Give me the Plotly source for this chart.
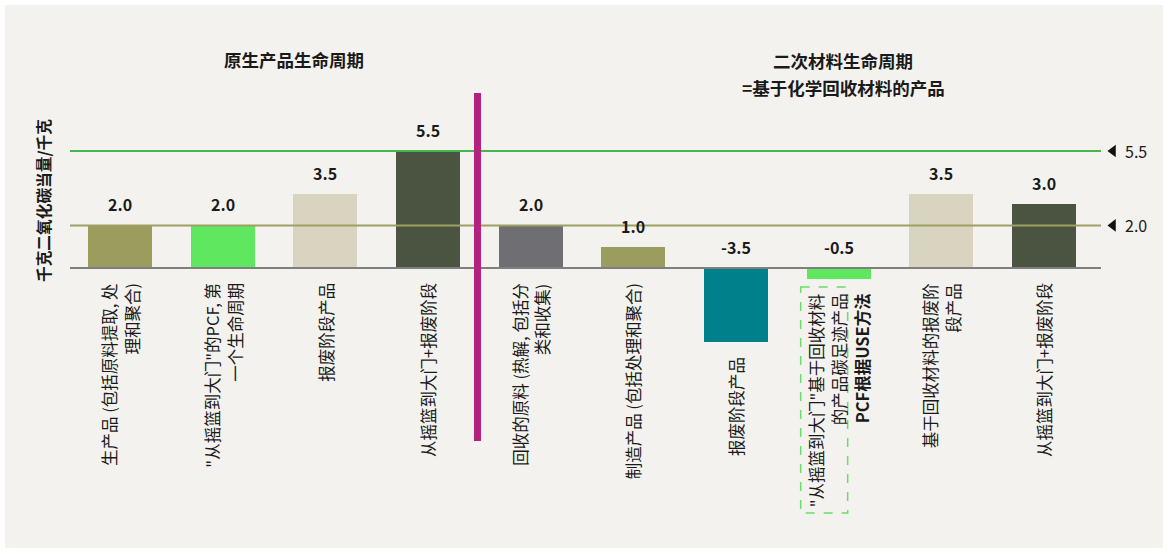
import plotly.graph_objects as go

# ---------------- data ----------------
categories = [
    ["生产品 (包括原料提取, 处", "理和聚合)"],
    ["\"从摇篮到大门\"的PCF, 第", "一个生命周期"],
    ["报废阶段产品"],
    ["从摇篮到大门+报废阶段"],
    ["回收的原料 (热解, 包括分", "类和收集)"],
    ["制造产品 (包括处理和聚合)"],
    ["报废阶段产品"],
    ["\"从摇篮到大门\"基于回收材料", "的产品碳足迹产品", "<b>PCF根据USE方法</b>"],
    ["基于回收材料的报废阶", "段产品"],
    ["从摇篮到大门+报废阶段"],
]
values = [2.0, 2.0, 3.5, 5.5, 2.0, 1.0, -3.5, -0.5, 3.5, 3.0]
bar_colors = ["#9a9d5e", "#5fe85f", "#d9d4c0", "#4b5440", "#6e6e73",
              "#9a9d5e", "#00808a", "#5fe85f", "#d9d4c0", "#4b5440"]
ref_values = [5.5, 2.0]
ref_colors = ["#45b550", "#9da062"]
section_titles = ["原生产品生命周期", "二次材料生命周期", "=基于化学回收材料的产品"]
y_title = "千克二氧化碳当量/千克"

# ---------------- layout helpers ----------------
W, H = 1168, 560
X0, XU = 120.0, 102.667   # pixel of first category centre, pixels per category
Y0, YU = 268.0, 21.2727   # pixel of zero, pixels per unit

def dx(px):
    return (px - X0) / XU

def dy(py):
    return (Y0 - py) / YU

FONT = "Noto Sans CJK SC, Noto Sans, sans-serif"
TXT = "#1a1a1a"
BG = "#f3f2ee"

fig = go.Figure()
xs = list(range(len(values)))
fig.add_trace(go.Bar(x=xs, y=values, marker=dict(color=bar_colors, line=dict(width=0)),
                     width=0.623, hoverinfo="skip", showlegend=False))

# reference markers
fig.add_trace(go.Scatter(x=[dx(1113)] * len(ref_values), y=ref_values, mode="markers",
                         marker=dict(symbol="triangle-left", size=11, color="#111111"),
                         hoverinfo="skip", showlegend=False, cliponaxis=False))

shapes = []
# background
shapes.append(dict(type="rect", xref="paper", yref="paper", x0=5 / W, x1=1163 / W,
                   y0=1 - 548 / H, y1=1 - 5 / H, fillcolor=BG, line=dict(width=0), layer="below"))
# baseline
shapes.append(dict(type="line", x0=dx(70), x1=dx(1101), y0=0, y1=0,
                   line=dict(color="#7f7f7f", width=2), layer="above"))
for rv, rc in zip(ref_values, ref_colors):
    shapes.append(dict(type="line", x0=dx(70), x1=dx(1101), y0=rv, y1=rv,
                       line=dict(color=rc, width=2), layer="above"))
# divider between the two life cycles
div_x = dx(477.5)
shapes.append(dict(type="line", x0=div_x, x1=div_x,
                   y0=dy(93), y1=dy(441), line=dict(color="#b5217f", width=7), layer="above"))
# dashed highlight box around bar 8 label
shapes.append(dict(type="rect", x0=7 + (801 - 839) / XU, x1=7 + (848 - 839) / XU,
                   y0=dy(287), y1=dy(513), line=dict(color="#66e066", width=1.5, dash="dash"),
                   fillcolor="rgba(0,0,0,0)", layer="above"))

ann = []
# value labels
for i, v in enumerate(values):
    ann.append(dict(x=i, y=max(v, 0), text=f"<b>{v:.1f}</b>", showarrow=False,
                    yanchor="middle", xanchor="center", yshift=21,
                    font=dict(family=FONT, size=16, color=TXT)))
# category labels (rotated)
LS = 23
for i, (lines, v) in enumerate(zip(categories, values)):
    n = len(lines)
    for k, line in enumerate(lines):
        ann.append(dict(x=i, y=min(v, 0), text=line, showarrow=False, textangle=-90,
                        xanchor="center", yanchor="top", yshift=-13,
                        xshift=(k - (n - 1) / 2) * LS,
                        font=dict(family=FONT, size=16.5, color=TXT)))
# reference labels
for rv in ref_values:
    ann.append(dict(x=dx(1113), y=rv, text=f"{rv:.1f}", showarrow=False, xanchor="left",
                    yanchor="middle", xshift=10, font=dict(family=FONT, size=16, color=TXT)))
# section titles
ann.append(dict(x=dx(294), y=dy(59), text=f"<b>{section_titles[0]}</b>", showarrow=False,
                xanchor="center", yanchor="middle", font=dict(family=FONT, size=17.5, color=TXT)))
ann.append(dict(x=dx(843), y=dy(60), text=f"<b>{section_titles[1]}</b>", showarrow=False,
                xanchor="center", yanchor="middle", font=dict(family=FONT, size=17.5, color=TXT)))
ann.append(dict(x=dx(843), y=dy(87), text=f"<b>{section_titles[2]}</b>", showarrow=False,
                xanchor="center", yanchor="middle", font=dict(family=FONT, size=17.5, color=TXT)))
# y title
ann.append(dict(x=dx(43), y=dy(201), text=f"<b>{y_title}</b>", showarrow=False, textangle=-90,
                xanchor="center", yanchor="middle", font=dict(family=FONT, size=15.7, color=TXT)))

fig.update_layout(
    width=W, height=H,
    margin=dict(l=0, r=0, t=0, b=0),
    paper_bgcolor="#ffffff", plot_bgcolor="rgba(0,0,0,0)",
    xaxis=dict(range=[dx(0), dx(W)], visible=False, fixedrange=True),
    yaxis=dict(range=[dy(H), dy(0)], visible=False, fixedrange=True),
    shapes=shapes, annotations=ann, bargap=0, showlegend=False,
)
fig.write_html("out.html", config={"displayModeBar": False},
               post_script="document.body.style.margin='0';document.body.style.overflow='hidden';")
